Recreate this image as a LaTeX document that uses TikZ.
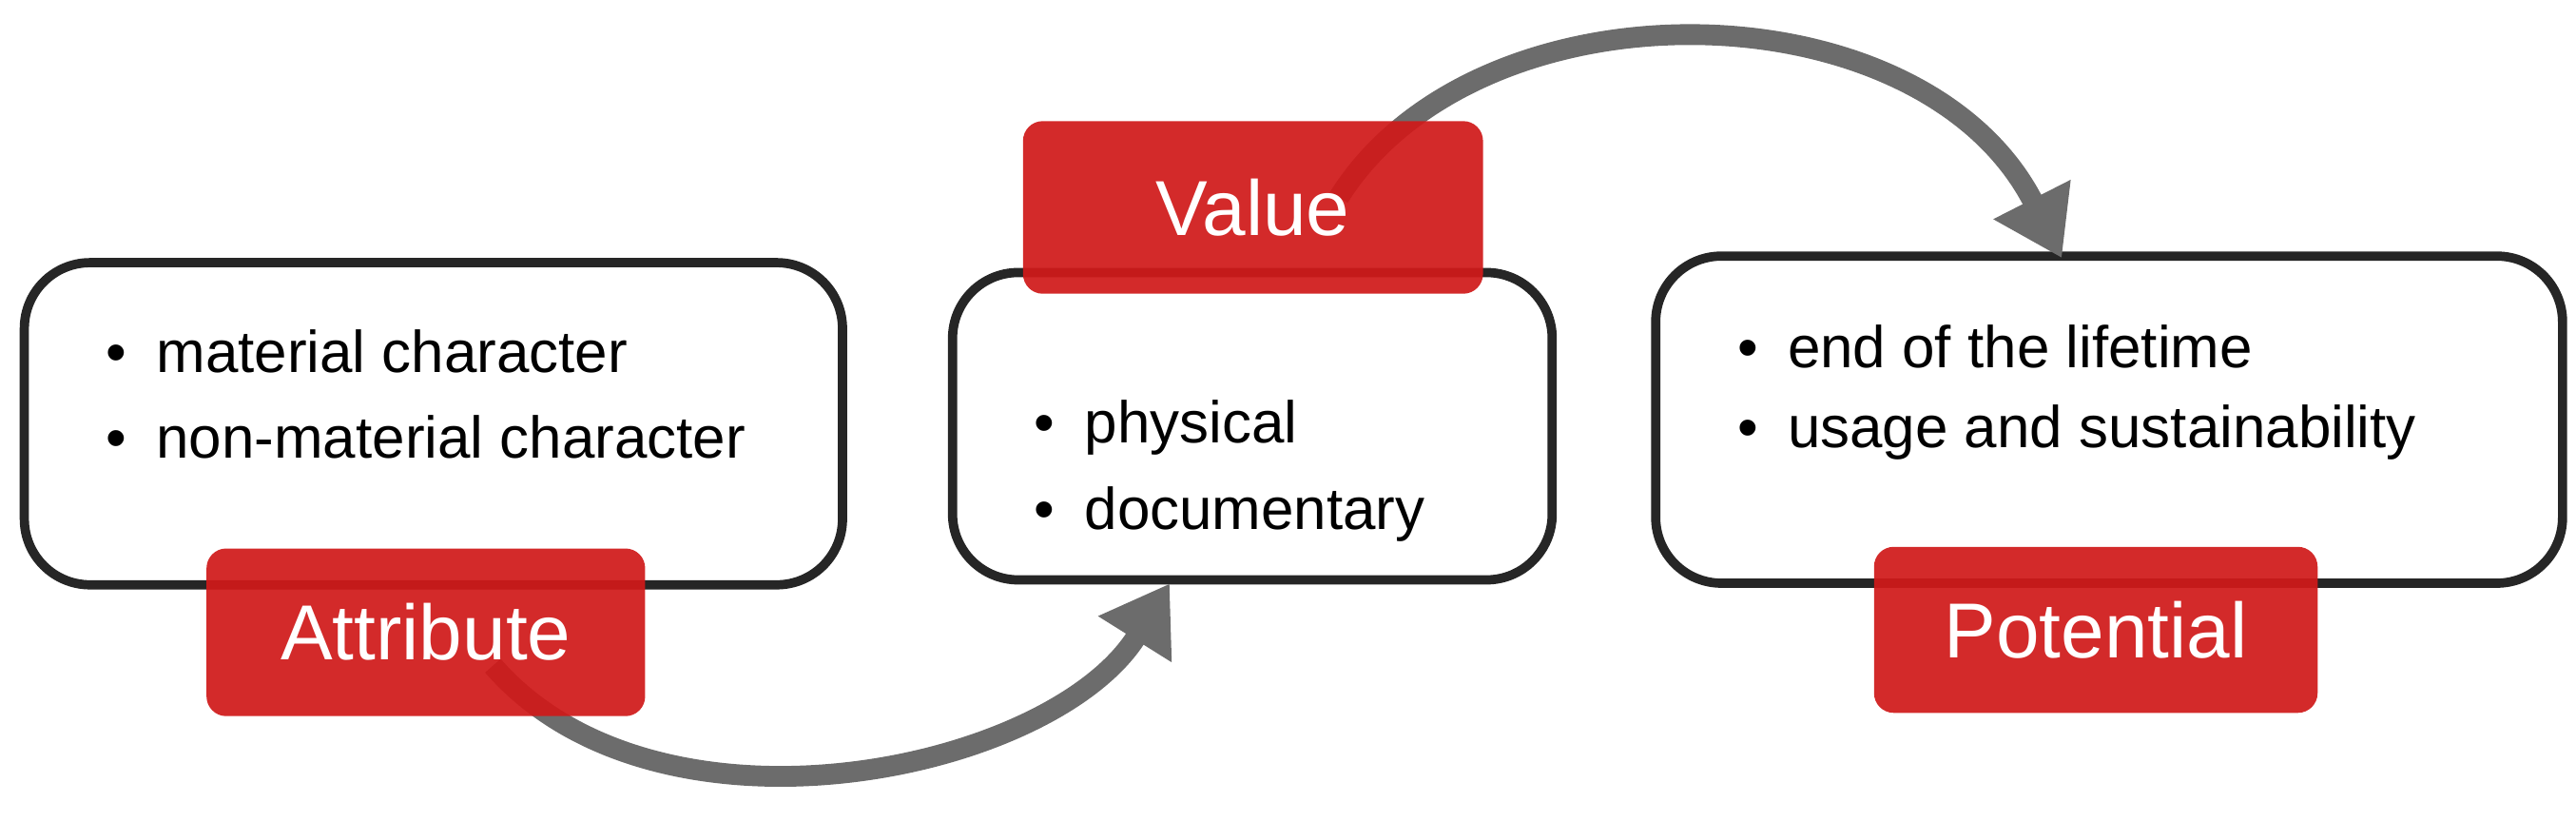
\documentclass[tikz,border=0pt]{standalone}
\usepackage{fontspec}
\setmainfont{Liberation Sans}
\usetikzlibrary{arrows.meta}
\begin{document}
\begin{tikzpicture}[x=0.1mm,y=-0.1mm,
  box/.style={draw=black!85,line width=1.6pt,rounded corners=4mm,fill=white},
  tag/.style={fill opacity=0.93,rounded corners=1.2mm,text opacity=1,text=white,font=\fontsize{13.5}{16}\selectfont,inner sep=0pt},
  arr/.style={draw=gray!85!black,line width=3.6pt,-{Triangle[length=4mm,width=5mm]}},
  item/.style={anchor=west,font=\fontsize{10.2}{13.5}\selectfont,inner sep=0pt}]
\definecolor{tagred}{HTML}{D01A1A}
\tikzset{tag/.append style={fill=tagred}}
\useasboundingbox (0,0) rectangle (1568,500);
\node[box,minimum width=498*0.1mm,minimum height=196*0.1mm,anchor=north west] (b1) at (12,157) {};
\node[box,minimum width=365*0.1mm,minimum height=187*0.1mm,anchor=north west] (b2) at (577,163) {};
\node[box,minimum width=552*0.1mm,minimum height=199*0.1mm,anchor=north west] (b3) at (1005,153) {};
\node[item] (t1a) at (64,214) {•\enspace material character};
\node[item] (t1b) at (64,266) {•\enspace non-material character};
\node[item] (t2a) at (629,260) {•\enspace physical};
\node[item] (t2b) at (629,313) {•\enspace documentary};
\node[item] (t3a) at (1057,211) {•\enspace end of the lifetime};
\node[item] (t3b) at (1057,263) {•\enspace usage and sustainability};
\coordinate (s1) at (300,405);
\coordinate (s2) at (815,120);
\coordinate (e1) at (712,355);
\coordinate (e2) at (1255,157);
\draw[arr] (s1) .. controls (400,520) and (640,470) .. (e1);
\draw[arr] (s2) .. controls (900,-15) and (1170,-10) .. (e2);
\node[tag,minimum width=267*0.1mm,minimum height=102*0.1mm,anchor=north west] (a) at (125,333) {Attribute};
\node[tag,minimum width=280*0.1mm,minimum height=105*0.1mm,anchor=north west] (v) at (622,73) {Value};
\node[tag,minimum width=270*0.1mm,minimum height=101*0.1mm,anchor=north west] (p) at (1140,332) {Potential};
\end{tikzpicture}
\end{document}
